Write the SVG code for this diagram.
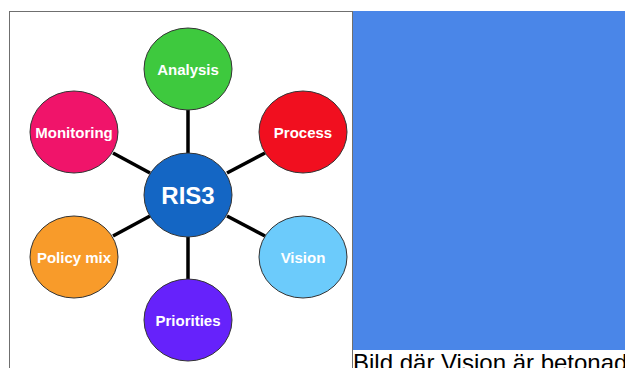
<svg xmlns="http://www.w3.org/2000/svg" width="625" height="368" viewBox="0 0 625 368">
<style>
.node ellipse{stroke:#333;stroke-width:1}
.lbl{font-family:"Liberation Sans",Arial,sans-serif;font-weight:bold;fill:#fff;font-size:15px;text-anchor:middle}
.conn line{stroke:#000;stroke-width:3.5}
</style>
<rect x="0" y="0" width="625" height="368" fill="#fff"/>
<rect x="9.5" y="11.5" width="343" height="370" fill="#fff" stroke="#6f6f6f" stroke-width="1"/>
<rect x="353" y="11" width="272" height="339" fill="#4a86e8"/>
<g id="connectors" class="conn">
<line x1="188" y1="110" x2="188" y2="153"/>
<line x1="188" y1="237" x2="188" y2="279"/>
<line x1="113" y1="153" x2="150" y2="173"/>
<line x1="265" y1="153" x2="227" y2="173"/>
<line x1="113" y1="236" x2="150" y2="216"/>
<line x1="265" y1="236" x2="227" y2="216"/>
</g>
<g id="analysis" class="node"><ellipse cx="188" cy="69" rx="44" ry="41" fill="#3ec93e"/><text class="lbl" x="188" y="74.5">Analysis</text></g>
<g id="monitoring" class="node"><ellipse cx="74" cy="132" rx="44" ry="41" fill="#f0146a"/><text class="lbl" x="74" y="137.5">Monitoring</text></g>
<g id="process" class="node"><ellipse cx="303" cy="132" rx="44" ry="41" fill="#f10f1f"/><text class="lbl" x="303" y="137.5">Process</text></g>
<g id="ris3" class="node"><ellipse cx="188" cy="195" rx="44" ry="42" fill="#1466c4"/><text class="lbl" x="188" y="203.5" style="font-size:24px">RIS3</text></g>
<g id="policy-mix" class="node"><ellipse cx="74" cy="257" rx="44" ry="41" fill="#f89b2a"/><text class="lbl" x="74" y="262.5">Policy mix</text></g>
<g id="vision" class="node"><ellipse cx="303" cy="257" rx="44" ry="41" fill="#6ccbfb"/><text class="lbl" x="303" y="262.5">Vision</text></g>
<g id="priorities" class="node"><ellipse cx="188" cy="320" rx="44" ry="41" fill="#6622fb"/><text class="lbl" x="188" y="325.5">Priorities</text></g>
<text x="353" y="371" font-family="'Liberation Sans',Arial,sans-serif" font-size="24" fill="#000">Bild där Vision är betonad</text>
</svg>
